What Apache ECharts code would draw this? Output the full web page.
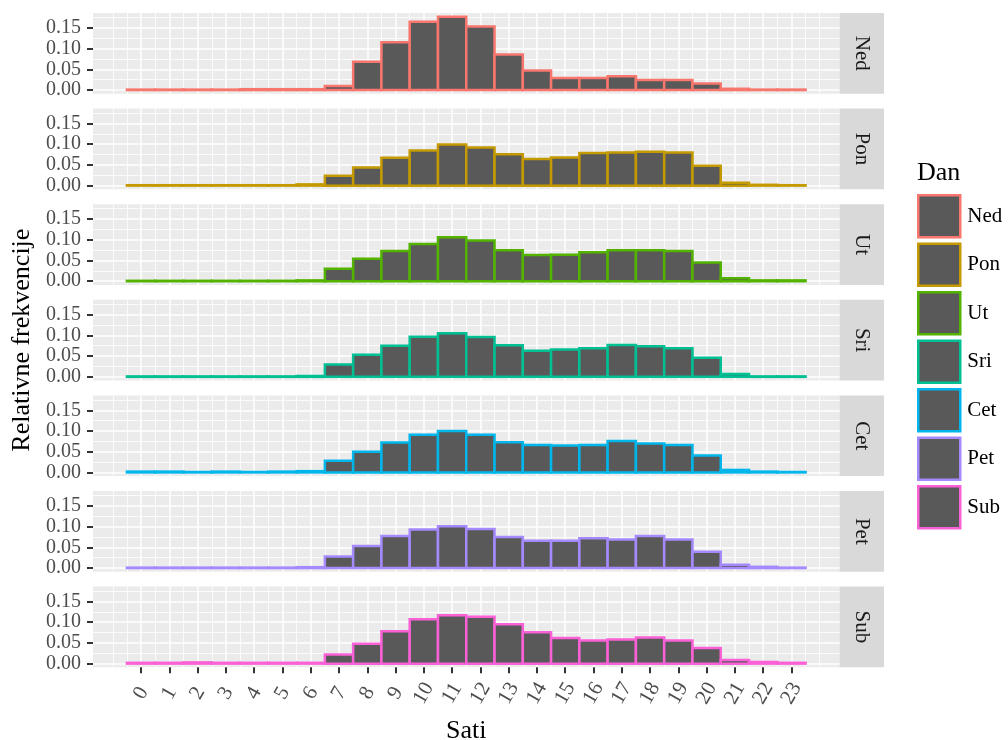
<!DOCTYPE html>
<html><head><meta charset="utf-8">
<script src="https://cdn.jsdelivr.net/npm/echarts@6/dist/echarts.min.js"></script>
<style>html,body{margin:0;padding:0;background:#fff}#c{width:1008px;height:740px}</style>
</head><body><div id="c"></div>
<script>
// ---- data ----
const hours = [0,1,2,3,4,5,6,7,8,9,10,11,12,13,14,15,16,17,18,19,20,21,22,23];
const days = ['Ned','Pon','Ut','Sri','Cet','Pet','Sub'];
const ned = [0.001,0.001,0.001,0.001,0.002,0.002,0.002,0.010,0.068,0.115,0.165,0.177,0.153,0.086,0.047,0.029,0.029,0.033,0.024,0.024,0.016,0.003,0.001,0.001];
const pon = [0.001,0.001,0.001,0.001,0.001,0.001,0.003,0.024,0.044,0.067,0.085,0.099,0.092,0.076,0.064,0.068,0.079,0.080,0.082,0.080,0.048,0.007,0.002,0.001];
const ut  = [0.001,0.001,0.001,0.001,0.001,0.001,0.002,0.030,0.054,0.073,0.090,0.106,0.098,0.075,0.063,0.064,0.070,0.075,0.075,0.073,0.045,0.007,0.002,0.002];
const sri = [0.001,0.001,0.001,0.001,0.001,0.001,0.002,0.030,0.053,0.075,0.097,0.105,0.096,0.076,0.063,0.066,0.069,0.077,0.074,0.069,0.046,0.007,0.001,0.001];
const cet = [0.002,0.002,0.001,0.002,0.001,0.002,0.003,0.028,0.050,0.072,0.091,0.100,0.091,0.073,0.066,0.065,0.066,0.076,0.070,0.066,0.041,0.006,0.002,0.001];
const pet = [0.001,0.001,0.001,0.001,0.001,0.001,0.002,0.028,0.053,0.077,0.093,0.101,0.094,0.075,0.066,0.066,0.072,0.069,0.077,0.069,0.039,0.008,0.003,0.001];
const sub = [0.002,0.002,0.003,0.002,0.002,0.002,0.002,0.022,0.048,0.078,0.107,0.117,0.113,0.095,0.076,0.062,0.056,0.058,0.063,0.056,0.038,0.009,0.004,0.002];
const seriesValues = [ned, pon, ut, sri, cet, pet, sub];
const xTickLabels = hours;
const yTickValues = [0, 0.05, 0.10, 0.15];
const yMinorValues = [0.025, 0.075, 0.125, 0.175];
const xMinorValues = [-1,-0.5,0.5,1.5,2.5,3.5,4.5,5.5,6.5,7.5,8.5,9.5,10.5,11.5,12.5,13.5,14.5,15.5,16.5,17.5,18.5,19.5,20.5,21.5,22.5,23.5,24];

// ---- style / layout ----
const colors = ['#F8766D','#C49A00','#53B400','#00C094','#00B6EB','#A58AFF','#FB61D7'];
const FONT = 'Liberation Serif';
const panelLeft = 93, panelWidth = 746.5, panelTop0 = 13, panelH = 80.7, panelStep = 95.6;
const dataMax = Math.max(...seriesValues.flat());
const yMin = -0.05 * dataMax, yMax = 1.05 * dataMax;
const xMin = -1.7, xMax = 24.7;

const grids = [], xAxes = [], yAxes = [], series = [], graphics = [];
days.forEach((d, i) => {
  const top = panelTop0 + i * panelStep;
  const isBottom = i === days.length - 1;
  grids.push({left: panelLeft, width: panelWidth, top: top, height: panelH, show: true,
    backgroundColor: '#EBEBEB', borderWidth: 0, containLabel: false, outerBoundsMode: 'none'});
  // major x
  xAxes.push({gridIndex: i, type: 'value', min: xMin, max: xMax, position: 'bottom',
    axisLine: {show: false, onZero: false},
    axisTick: {show: isBottom, customValues: hours, length: 6, lineStyle: {color: '#333333', width: 2}},
    axisLabel: {show: isBottom, customValues: xTickLabels, rotate: 60, align: 'center', verticalAlign: 'middle',
      margin: 26, fontFamily: FONT, fontSize: 21, color: '#4D4D4D', formatter: v => String(v)},
    splitLine: {show: true, lineStyle: {color: '#FFFFFF', width: 1.5}},
    name: isBottom ? 'Sati' : '', nameLocation: 'middle', nameGap: 51,
    nameTextStyle: {fontFamily: FONT, fontSize: 26, color: '#000000'}
  });
  // minor x
  xAxes.push({gridIndex: i, type: 'value', min: xMin, max: xMax, position: 'top',
    axisLine: {show: false, onZero: false}, axisTick: {show: false, customValues: xMinorValues},
    axisLabel: {show: false}, splitLine: {show: true, lineStyle: {color: '#FFFFFF', width: 0.8}}});
  // major y
  yAxes.push({gridIndex: i, type: 'value', min: yMin, max: yMax, position: 'left',
    axisLine: {show: false, onZero: false},
    axisTick: {show: true, customValues: yTickValues, length: 6, lineStyle: {color: '#333333', width: 2}},
    axisLabel: {customValues: yTickValues, margin: 12, fontFamily: FONT, fontSize: 20, color: '#4D4D4D',
      showMinLabel: true, showMaxLabel: true, formatter: v => v.toFixed(2)},
    splitLine: {show: true, lineStyle: {color: '#FFFFFF', width: 1.5}},
    name: i === 3 ? 'Relativne frekvencije' : '', nameLocation: 'middle', nameGap: 49, nameRotate: 90,
    nameTextStyle: {fontFamily: FONT, fontSize: 26, color: '#000000'}
  });
  // minor y
  yAxes.push({gridIndex: i, type: 'value', min: yMin, max: yMax, position: 'right',
    axisLine: {show: false, onZero: false}, axisTick: {show: false, customValues: yMinorValues},
    axisLabel: {show: false}, splitLine: {show: true, lineStyle: {color: '#FFFFFF', width: 0.8}}});

  const col = colors[i];
  series.push({
    name: d, type: 'custom', xAxisIndex: 2 * i, yAxisIndex: 2 * i,
    itemStyle: {color: '#595959', borderColor: col, borderWidth: 2.5},
    data: hours.map((h, j) => [h, seriesValues[i][j]]),
    renderItem: (params, api) => {
      const x = api.value(0), v = api.value(1);
      const p0 = api.coord([x - 0.5, v]);
      const p1 = api.coord([x + 0.5, 0]);
      return {type: 'rect', shape: {x: p0[0], y: p0[1], width: p1[0] - p0[0], height: p1[1] - p0[1]},
        style: {fill: '#595959', stroke: col, lineWidth: 2.5}};
    }
  });

  graphics.push({type: 'rect', shape: {x: panelLeft + panelWidth, y: top, width: 44.5, height: panelH},
    style: {fill: '#D9D9D9'}, silent: true});
  graphics.push({type: 'text', x: panelLeft + panelWidth + 22.2, y: top + panelH / 2, rotation: -Math.PI / 2,
    style: {text: d, align: 'center', verticalAlign: 'middle', textAlign: 'center', textVerticalAlign: 'middle',
      fontFamily: FONT, fontSize: 21, fill: '#1A1A1A'}, silent: true});
});

const chart = echarts.init(document.getElementById('c'), null, {renderer: 'canvas'});
chart.setOption({
  animation: false,
  backgroundColor: '#FFFFFF',
  title: {text: 'Dan', left: 917, top: 160, padding: 0,
    textStyle: {fontFamily: FONT, fontSize: 26, fontWeight: 'normal', color: '#000000'}},
  legend: {orient: 'vertical', left: 917, top: 194, itemWidth: 42, itemHeight: 42, itemGap: 4,
    icon: 'rect', selectedMode: false, padding: 0,
    textStyle: {fontFamily: FONT, fontSize: 21, color: '#000000', padding: [0, 0, 0, 2]},
    data: days.map((d, i) => ({name: d, itemStyle: {color: '#595959', borderColor: colors[i], borderWidth: 2.5}}))},
  grid: grids, xAxis: xAxes, yAxis: yAxes, series: series, graphic: graphics
});
</script></body></html>
